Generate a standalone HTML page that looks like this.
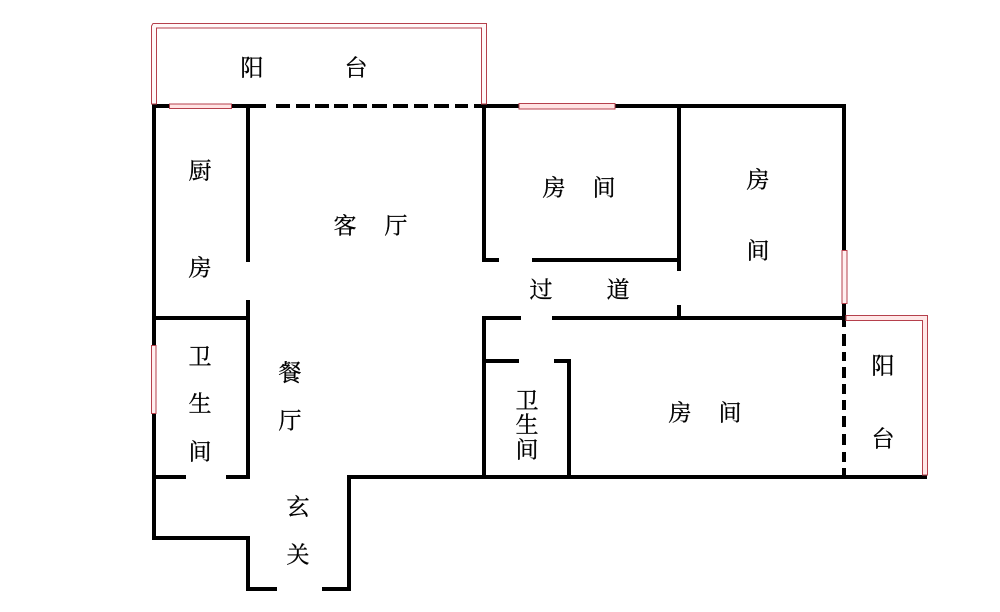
<!DOCTYPE html>
<html>
<head>
<meta charset="utf-8">
<style>
html,body{margin:0;padding:0;background:#fff;width:1000px;height:612px;overflow:hidden}
svg{display:block}
text{font-family:"Liberation Serif","Noto Serif CJK SC",serif;font-size:23px;fill:#000;stroke:#000;stroke-width:.3;text-anchor:middle;dominant-baseline:central}
</style>
</head>
<body>
<svg width="1000" height="612" viewBox="0 0 1000 612" xmlns="http://www.w3.org/2000/svg">
<rect width="1000" height="612" fill="#fff"/>
<g stroke="#000" stroke-width="4" fill="none" stroke-linecap="butt">
<path d="M152 106H266"/>
<path d="M276 106H290M296 106H310M315 106H329M334 106H348M353 106H367M372 106H387M393 106H408M414 106H428M434 106H449M455 106H468"/>
<path d="M474 106H845"/>
<path d="M154 104V538H250"/>
<path d="M248 536V589H277"/>
<path d="M322 589H349V477H927"/>
<path d="M248 104V262"/>
<path d="M248 300V479"/>
<path d="M154 318H248"/>
<path d="M154 477H186"/>
<path d="M226 477H250"/>
<path d="M484 104V260H499"/>
<path d="M532 260H679"/>
<path d="M679 104V271"/>
<path d="M679 305V318"/>
<path d="M844 104V327"/>
<path d="M844 334V346M844 352V361M844 367V378M844 384V394M844 400V410M844 416V427M844 434V445M844 452V462M844 468V477"/>
<path d="M521 318H484V477"/>
<path d="M552 318H846"/>
<path d="M484 361H519"/>
<path d="M554 361H569V477"/>
</g>
<g stroke="#b5404c" stroke-width="1" fill="#fff">
<path d="M151.500 104V26L153 23.500H486.500V104H481.500V28H156.500V104Z" fill="#fff8f8"/>
<rect x="169.500" y="104" width="62" height="4.500" fill="#ffe4e4"/>
<rect x="519" y="103.500" width="96" height="5.500" fill="#ffe4e4"/>
<rect x="842" y="250.500" width="5" height="53" fill="#fff0f0"/>
<rect x="151.500" y="345.500" width="4.500" height="68" fill="#fff0f0"/>
<path d="M846 315.500H927.500V475H922.500V320.500H846Z" fill="#ffe8e8"/>
</g>
<text x="252" y="68">阳</text><text x="356" y="68">台</text>
<text x="200" y="171">厨</text><text x="200" y="268">房</text>
<text x="345" y="226">客</text><text x="396" y="226">厅</text>
<text x="554" y="188">房</text><text x="604" y="188">间</text>
<text x="758" y="180">房</text><text x="758" y="251">间</text>
<text x="541" y="290">过</text><text x="618" y="290">道</text>
<text x="883" y="366">阳</text><text x="883" y="439">台</text>
<text x="680" y="413">房</text><text x="730" y="413">间</text>
<text x="200" y="357">卫</text><text x="200" y="404">生</text><text x="200" y="452">间</text>
<text x="290" y="373">餐</text><text x="290" y="421">厅</text>
<text x="527" y="401">卫</text><text x="527" y="425">生</text><text x="527" y="450">间</text>
<text x="298" y="507">玄</text><text x="298" y="555">关</text>
</svg>
</body>
</html>
